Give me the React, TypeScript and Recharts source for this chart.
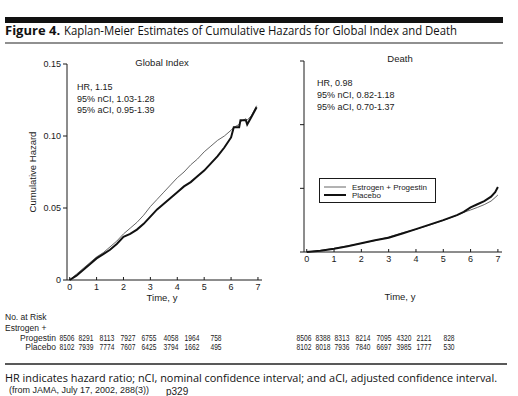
import React from "react";
import { LineChart, Line, XAxis, YAxis, Legend } from "recharts";

const SANS = '"Liberation Sans", Arial, sans-serif';
const HUMANIST = '"Open Sans", "DejaVu Sans", sans-serif';
const INK = "#1a1a1a";

// time axis, years
const xTicks = [0, 1, 2, 3, 4, 5, 6, 7];
const yTicks = [0, 0.05, 0.1, 0.15];

// Global Index: cumulative hazard
const globalTime = [0, 0.25, 0.5, 0.75, 1, 1.25, 1.5, 1.75, 2, 2.25, 2.5, 2.75, 3, 3.25, 3.5, 3.75, 4, 4.25, 4.5, 4.75, 5, 5.25, 5.5, 5.75, 6, 6.1, 6.3, 6.35, 6.55, 6.6, 6.75, 6.95];
const globalEP = [0, 0.004, 0.008, 0.012, 0.016, 0.019, 0.023, 0.027, 0.032, 0.036, 0.04, 0.045, 0.051, 0.056, 0.061, 0.066, 0.071, 0.075, 0.08, 0.084, 0.089, 0.093, 0.097, 0.1, 0.104, 0.106, 0.108, 0.11, 0.112, 0.111, 0.114, 0.121];
const globalPlacebo = [0, 0.003, 0.007, 0.011, 0.015, 0.018, 0.021, 0.025, 0.03, 0.032, 0.035, 0.039, 0.044, 0.049, 0.053, 0.057, 0.061, 0.065, 0.068, 0.072, 0.076, 0.081, 0.086, 0.092, 0.099, 0.106, 0.106, 0.111, 0.111, 0.108, 0.113, 0.12];

// Death: cumulative hazard
const deathTime = [0, 0.5, 1, 1.5, 2, 2.5, 3, 3.5, 4, 4.5, 5, 5.5, 5.75, 6, 6.25, 6.5, 6.75, 6.9, 7];
const deathEP = [0, 0.0012, 0.0028, 0.0048, 0.0068, 0.009, 0.0118, 0.015, 0.0178, 0.0212, 0.0248, 0.0288, 0.0312, 0.033, 0.035, 0.0372, 0.04, 0.0428, 0.0448];
const deathPlacebo = [0, 0.001, 0.0026, 0.0046, 0.0068, 0.0092, 0.0112, 0.0145, 0.018, 0.0215, 0.025, 0.029, 0.0315, 0.035, 0.0375, 0.04, 0.0435, 0.047, 0.051];

// number at risk
const riskGlobalEP = [8506, 8291, 8113, 7927, 6755, 4058, 1964, 758];
const riskGlobalPlacebo = [8102, 7939, 7774, 7607, 6425, 3794, 1662, 495];
const riskDeathEP = [8506, 8388, 8313, 8214, 7095, 4320, 2121, 828];
const riskDeathPlacebo = [8102, 8018, 7936, 7840, 6697, 3985, 1777, 530];

const globalStats = ["HR, 1.15", "95% nCI, 1.03-1.28", "95% aCI, 0.95-1.39"];
const deathStats = ["HR, 0.98", "95% nCI, 0.82-1.18", "95% aCI, 0.70-1.37"];

const globalData = globalTime.map((t, i) => ({ t, ep: globalEP[i], pl: globalPlacebo[i] }));
const deathData = deathTime.map((t, i) => ({ t, ep: deathEP[i], pl: deathPlacebo[i] }));

// column centres of the at-risk table
const riskColsLeft = [67, 86, 107, 128, 149, 171, 192, 216];
const riskColsRight = [304, 323, 342, 363, 384, 404, 424, 449];

function XTick(props: any) {
  const { x, y, payload } = props;
  return (
    <g>
      <line x1={x} x2={x} y1={y} y2={y - 3} stroke={INK} />
      <text x={x} y={y + 9.5} textAnchor="middle" fontSize={9} fontFamily={SANS} fill={INK}>
        {payload.value}
      </text>
    </g>
  );
}

function LegendBox() {
  return (
    <svg width={118} height={26} style={{ display: "block" }}>
      <rect x={0.5} y={0.5} width={116} height={24} fill="#fff" stroke={INK} />
      <line x1={5} x2={27} y1={9} y2={9} stroke="#555" strokeWidth={0.9} />
      <line x1={5} x2={27} y1={17} y2={17} stroke="#111" strokeWidth={2} />
      <text x={33} y={11.5} fontSize={8} fontFamily={SANS} fill={INK}>Estrogen + Progestin</text>
      <text x={33} y={20} fontSize={8} fontFamily={SANS} fill={INK}>Placebo</text>
    </svg>
  );
}

function Panel({ data, showLabels, legend }: { data: any[]; showLabels: boolean; legend?: boolean }) {
  return (
    <LineChart
      width={showLabels ? 270 : 258}
      height={300}
      data={data}
      margin={showLabels ? { top: 64, right: 8, bottom: 0, left: 27 } : { top: 61, right: 16, bottom: 2, left: 14 }}
    >
      <XAxis
        dataKey="t"
        type="number"
        domain={[-0.1, 7.15]}
        ticks={xTicks}
        allowDataOverflow
        height={20}
        tickSize={0}
        tickMargin={0}
        tick={<XTick />}
        stroke={INK}
      />
      <YAxis
        type="number"
        domain={[0, 0.15]}
        ticks={yTicks}
        width={showLabels ? 40 : 30}
        tickSize={4}
        tickMargin={2}
        stroke={INK}
        tick={{ fontSize: 9, fontFamily: SANS, fill: INK }}
        tickFormatter={(v: number) => (showLabels ? (v === 0 ? "0" : v.toFixed(2)) : "")}
      />
      {legend && (
        <Legend
          content={() => <LegendBox />}
          wrapperStyle={{ position: "absolute", left: 59, top: 178, width: 118, height: 26 }}
        />
      )}
      <Line type="linear" dataKey="ep" stroke="#555" strokeWidth={0.9} dot={false} isAnimationActive={false} />
      <Line type="linear" dataKey="pl" stroke="#111" strokeWidth={2} dot={false} isAnimationActive={false} />
    </LineChart>
  );
}

function RiskRow({ values, cols, y }: { values: number[]; cols: number[]; y: number }) {
  return (
    <>
      {values.map((v, i) => (
        <text
          key={i}
          x={cols[i]}
          y={y}
          textAnchor="middle"
          fontSize={8.5}
          fontFamily={SANS}
          fill={INK}
          textLength={String(v).length * 3.7}
          lengthAdjust="spacingAndGlyphs"
        >
          {v}
        </text>
      ))}
    </>
  );
}

export default function App() {
  return (
    <div style={{ position: "absolute", left: 0, top: 0, width: 518, height: 396, background: "#fff", overflow: "hidden" }}>
      <div style={{ position: "absolute", left: 0, top: 0 }}>
        <Panel data={globalData} showLabels />
      </div>
      <div style={{ position: "absolute", left: 260, top: 0 }}>
        <Panel data={deathData} showLabels={false} legend />
      </div>
      <svg width={518} height={396} style={{ position: "absolute", left: 0, top: 0, pointerEvents: "none" }}>
        <rect x={5} y={17} width={498} height={6} fill="#111" />
        <text x={5} y={34.5} fontSize={13} fontWeight="bold" fontFamily={HUMANIST} fill="#111">Figure 4.</text>
        <text x={64} y={34.5} fontSize={13} fontFamily={HUMANIST} fill="#111" textLength={393} lengthAdjust="spacingAndGlyphs">
          Kaplan-Meier Estimates of Cumulative Hazards for Global Index and Death
        </text>
        <line x1={5} x2={503} y1={43} y2={43} stroke="#222" strokeWidth={1.2} />

        <text x={162} y={66} textAnchor="middle" fontSize={9.5} fontFamily={SANS} fill={INK}>Global Index</text>
        <text x={400} y={62} textAnchor="middle" fontSize={9.5} fontFamily={SANS} fill={INK}>Death</text>

        {globalStats.map((s, i) => (
          <text key={s} x={77} y={90 + i * 11.5} fontSize={9} fontFamily={SANS} fill={INK}>{s}</text>
        ))}
        {deathStats.map((s, i) => (
          <text key={s} x={317} y={86 + i * 12} fontSize={9} fontFamily={SANS} fill={INK}>{s}</text>
        ))}

        <text x={36} y={172} transform="rotate(-90 36 172)" textAnchor="middle" fontSize={9.5} fontFamily={SANS} fill={INK}>
          Cumulative Hazard
        </text>
        <text x={162} y={301} textAnchor="middle" fontSize={9.5} fontFamily={SANS} fill={INK}>Time, y</text>
        <text x={400} y={300} textAnchor="middle" fontSize={9.5} fontFamily={SANS} fill={INK}>Time, y</text>

        <text x={5} y={320} fontSize={8.5} fontFamily={SANS} fill={INK}>No. at Risk</text>
        <text x={5} y={330.5} fontSize={8.5} fontFamily={SANS} fill={INK}>Estrogen +</text>
        <text x={56} y={340.5} textAnchor="end" fontSize={8.5} fontFamily={SANS} fill={INK}>Progestin</text>
        <text x={56} y={350} textAnchor="end" fontSize={8.5} fontFamily={SANS} fill={INK}>Placebo</text>
        <RiskRow values={riskGlobalEP} cols={riskColsLeft} y={340.5} />
        <RiskRow values={riskGlobalPlacebo} cols={riskColsLeft} y={350} />
        <RiskRow values={riskDeathEP} cols={riskColsRight} y={340.5} />
        <RiskRow values={riskDeathPlacebo} cols={riskColsRight} y={350} />

        <line x1={5} x2={507} y1={364} y2={364} stroke="#222" strokeWidth={1.6} />
        <text x={5} y={381.5} fontSize={11} fontFamily={HUMANIST} fill="#111" textLength={492} lengthAdjust="spacingAndGlyphs">
          HR indicates hazard ratio; nCI, nominal confidence interval; and aCI, adjusted confidence interval.
        </text>
        <text x={9} y={393} fontSize={9} fontFamily={SANS} fill="#222">(from JAMA, July 17, 2002, 288(3))</text>
        <text x={166} y={394.5} fontSize={10} fontFamily={SANS} fill="#222">p329</text>
      </svg>
    </div>
  );
}
